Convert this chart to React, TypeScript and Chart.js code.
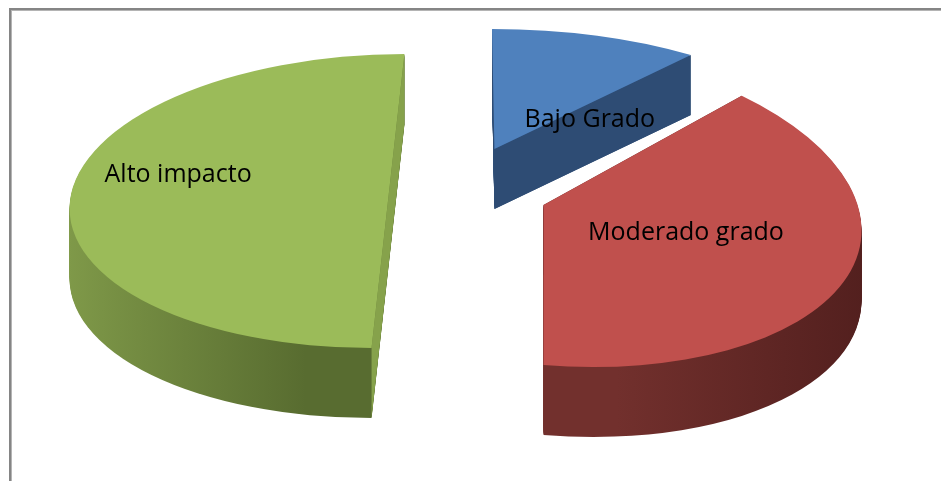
import React, { useEffect, useRef } from "react";
import { Chart, ArcElement, registerables } from "chart.js";

Chart.register(...registerables);

// ---- data ----
const categories = ["Bajo Grado", "Moderado grado", "Alto impacto"];
const counts = [3, 11, 14];

// ---- styles ----
const topColors = ["#4f81bd", "#c0504d", "#9bbb59"];
const sideColors = [
  ["#30507a", "#2c4a71"],
  ["#72302d", "#4a1b1a"],
  ["#8ca851", "#586c30"],
];
const cutColors = ["#2e4c74", "#5a2220", "#86a24b"];
// per-slice pseudo-perspective: vertical squash, explosion lift, shears, depth
const sliceSquash = [120 / 318, 160 / 318, 147 / 318];
const sliceLift = [0.69, 0.15, 0.462];
const sliceShearX = [0.02, 0, -0.112];
const sliceShearY = [0, 0.08, 0];
const sliceDepth = [60, 70, 70];
// label anchor shift from each slice apex, as fractions of the radius
const labelShift = [
  [0.30, -0.07],
  [0.448, 0.11],
  [-0.66, -0.06],
];

const RADIUS = 318; // horizontal half-axis (px)
const CX = 468; // ellipse centre on screen
const CY = 201;
const EXPLODE = 80; // explosion distance (px)

function apexOf(el: any, i: number) {
  const mid = (el.startAngle + el.endAngle) / 2;
  return {
    x: CX + Math.cos(mid) * EXPLODE,
    y: CY + Math.sin(mid) * EXPLODE * sliceLift[i],
  };
}

function applyT(ctx: CanvasRenderingContext2D, el: any, i: number) {
  const p = apexOf(el, i);
  const sq = sliceSquash[i];
  ctx.translate(p.x, p.y);
  ctx.transform(1, sliceShearY[i], sliceShearX[i] * sq, sq, 0, 0);
  ctx.translate(-el.x, -el.y);
}

function toDevice(el: any, i: number, X: number, Y: number) {
  const p = apexOf(el, i);
  const sq = sliceSquash[i];
  const dx = X - el.x;
  const dy = Y - el.y;
  return {
    x: p.x + dx + sliceShearX[i] * sq * dy,
    y: p.y + sliceShearY[i] * dx + sq * dy,
  };
}

const baseDraw = ArcElement.prototype.draw;

const pie3d = {
  id: "pie3d",
  afterDatasetsUpdate(chart: any) {
    const meta = chart.getDatasetMeta(0);
    meta.data.forEach((el: any, i: number) => {
      el.draw = function (ctx: CanvasRenderingContext2D, area: any) {
        ctx.save();
        applyT(ctx, this, i);
        baseDraw.call(this, ctx, area);
        ctx.restore();
      };
    });
  },
  beforeDatasetsDraw(chart: any) {
    const ctx = chart.ctx as CanvasRenderingContext2D;
    const meta = chart.getDatasetMeta(0);
    meta.data.forEach((el: any, i: number) => {
      const r = el.outerRadius;
      let minX = Infinity;
      let maxX = -Infinity;
      for (let k = 0; k <= 60; k++) {
        const a = el.startAngle + ((el.endAngle - el.startAngle) * k) / 60;
        const q = toDevice(el, i, el.x + Math.cos(a) * r, el.y + Math.sin(a) * r);
        minX = Math.min(minX, q.x);
        maxX = Math.max(maxX, q.x);
      }
      const g = ctx.createLinearGradient(minX, 0, maxX, 0);
      g.addColorStop(0, sideColors[i][0]);
      g.addColorStop(1, sideColors[i][1]);
      // rim: extrude the slice downward
      for (let d = sliceDepth[i]; d >= 1; d -= 1) {
        ctx.save();
        ctx.translate(0, d);
        applyT(ctx, el, i);
        ctx.beginPath();
        ctx.moveTo(el.x, el.y);
        ctx.arc(el.x, el.y, r, el.startAngle, el.endAngle);
        ctx.closePath();
        ctx.fillStyle = g;
        ctx.fill();
        ctx.restore();
      }
      // cut faces along both radial edges
      const p0 = toDevice(el, i, el.x, el.y);
      const D = sliceDepth[i];
      [el.startAngle, el.endAngle].forEach((a: number) => {
        const p1 = toDevice(el, i, el.x + Math.cos(a) * r, el.y + Math.sin(a) * r);
        ctx.save();
        ctx.beginPath();
        ctx.moveTo(p0.x, p0.y);
        ctx.lineTo(p1.x, p1.y);
        ctx.lineTo(p1.x, p1.y + D);
        ctx.lineTo(p0.x, p0.y + D);
        ctx.closePath();
        ctx.fillStyle = cutColors[i];
        ctx.fill();
        ctx.restore();
      });
    });
  },
  afterDatasetsDraw(chart: any) {
    const ctx = chart.ctx as CanvasRenderingContext2D;
    const meta = chart.getDatasetMeta(0);
    ctx.save();
    ctx.font = "25px 'Open Sans'";
    ctx.fillStyle = "#000000";
    ctx.textAlign = "center";
    ctx.textBaseline = "alphabetic";
    meta.data.forEach((el: any, i: number) => {
      const p = apexOf(el, i);
      ctx.fillText(
        categories[i],
        p.x + labelShift[i][0] * RADIUS,
        p.y + labelShift[i][1] * RADIUS
      );
    });
    ctx.restore();
  },
  afterDraw(chart: any) {
    const ctx = chart.ctx as CanvasRenderingContext2D;
    ctx.save();
    ctx.fillStyle = "#858585";
    ctx.fillRect(9, 8, 932, 2);
    ctx.fillRect(9, 8, 2, 473);
    ctx.fillStyle = "#b4b4b4";
    ctx.fillRect(11, 10, 930, 1);
    ctx.fillRect(11, 10, 1, 471);
    ctx.restore();
  },
};

export default function App() {
  const ref = useRef<HTMLCanvasElement>(null);
  useEffect(() => {
    const chart = new Chart(ref.current as HTMLCanvasElement, {
      type: "pie",
      data: {
        labels: categories,
        datasets: [
          {
            data: counts,
            backgroundColor: topColors,
            borderWidth: 0,
            radius: RADIUS,
            clip: false,
          } as any,
        ],
      },
      options: {
        responsive: false,
        animation: false,
        events: [],
        layout: { padding: 0 },
        plugins: {
          legend: { display: false },
          tooltip: { enabled: false },
        },
      },
      plugins: [pie3d],
    });
    return () => chart.destroy();
  }, []);
  return (
    <div
      style={{
        position: "absolute",
        left: 0,
        top: 0,
        width: 941,
        height: 481,
        background: "#ffffff",
      }}
    >
      <canvas ref={ref} width={941} height={481} style={{ display: "block" }} />
    </div>
  );
}
